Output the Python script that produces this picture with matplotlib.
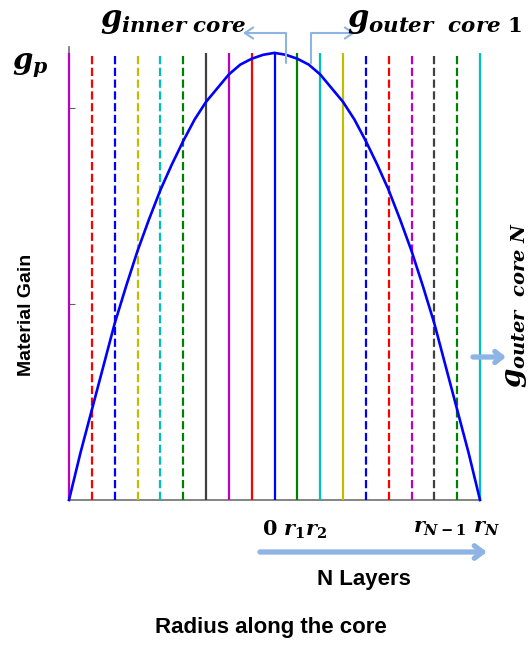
import matplotlib.pyplot as plt

plt.rcParams['mathtext.fontset'] = 'custom'
plt.rcParams['mathtext.it'] = 'DejaVu Serif:italic:bold'
plt.rcParams['mathtext.rm'] = 'DejaVu Serif:bold'
plt.rcParams['mathtext.bf'] = 'DejaVu Serif:bold'

# layer boundaries along the radius
radius = [-9, -8, -7, -6, -5, -4, -3, -2, -1, 0, 1, 2, 3, 4, 5, 6, 7, 8, 9]
colors = ['#bf00bf', 'r', 'b', '#bfbf00', '#00bfbf', 'g', '#404040', '#bf00bf', 'r',
          'b', 'g', '#00bfbf', '#bfbf00', 'b', 'r', '#bf00bf', '#404040', 'g', '#00bfbf']
styles = ['-', '--', '--', '--', '--', '--', '-', '-', '-',
          '-', '-', '-', '-', '--', '--', '--', '--', '--', '-']

# gain profile across the core
r_gain = [-9, -8.5, -8, -7.5, -7, -6.5, -6, -5.5, -5, -4.5, -4, -3.5, -3, -2.5, -2, -1.5, -1, -0.5, 0,
          0.5, 1, 1.5, 2, 2.5, 3, 3.5, 4, 4.5, 5, 5.5, 6, 6.5, 7, 7.5, 8, 8.5, 9]
gain = [0, 0.24, 0.46, 0.68, 0.90, 1.09, 1.27, 1.43, 1.58, 1.71, 1.83, 1.94, 2.03, 2.10, 2.17, 2.22, 2.25, 2.27, 2.28,
        2.27, 2.25, 2.22, 2.17, 2.10, 2.03, 1.94, 1.83, 1.71, 1.58, 1.43, 1.27, 1.09, 0.90, 0.68, 0.46, 0.24, 0]
g_peak = 2.28

fig = plt.figure(figsize=(5.3, 6.47), dpi=100)
ax = fig.add_axes([0.1302, 0.2272, 0.7755, 0.7002])

# layer boundaries drawn over the spines
for x, c, ls in zip(radius, colors, styles):
    ax.vlines(x, 0, g_peak, colors=c, linestyles=ls, linewidth=1.6, zorder=2.6, clip_on=False)

ax.plot(r_gain, gain, color='b', linewidth=1.9, zorder=3, clip_on=False)

ax.set_xlim(-9, 9)
ax.set_ylim(0, 2.31)
ax.set_xticks([])
ax.set_yticks([1, 2])
ax.set_yticklabels([])
ax.tick_params(axis='y', direction='in', length=4, color='#606060')
for s in ['top', 'right']:
    ax.spines[s].set_visible(False)
for s in ['left', 'bottom']:
    ax.spines[s].set_color('#707070')
    ax.spines[s].set_linewidth(1.2)

arrow_c = '#8eb4e3'
H = 647

def fp(x, y):
    return (x, H - y)

# plain text labels
fig.text(27 / 530, 1 - 315 / H, 'Material Gain', rotation=90, ha='center', va='center',
         fontsize=14, fontweight='bold', family='Liberation Sans')
fig.text(364 / 530, 1 - 580 / H, 'N Layers', ha='center', va='center',
         fontsize=16, fontweight='bold', family='Liberation Sans')
fig.text(271 / 530, 1 - 628 / H, 'Radius along the core', ha='center', va='center',
         fontsize=16, fontweight='bold', family='Liberation Sans')

# gain symbols
fig.text(12 / 530, 1 - 66 / H, r'$g_p$', ha='left', va='center', fontsize=21)
fig.text(100 / 530, 1 - 22 / H, r'$g_{inner\ core}$', ha='left', va='center', fontsize=22)
fig.text(347 / 530, 1 - 22 / H, r'$g_{outer\ \ core\ 1}$', ha='left', va='center', fontsize=22)
fig.text(515 / 530, 1 - 305 / H, r'$g_{outer\ \ core\ N}$', rotation=90, ha='center', va='center',
         fontsize=20)

# radius labels
fig.text(262 / 530, 1 - 530 / H, r'$0\ r_1 r_2$', ha='left', va='center', fontsize=15)
fig.text(413 / 530, 1 - 528 / H, r'$r_{N-1}\ r_N$', ha='left', va='center', fontsize=15)

# arrows
ax.annotate('', xy=fp(487, 552), xytext=fp(260, 552), xycoords='figure pixels',
            textcoords='figure pixels',
            arrowprops=dict(arrowstyle='->,head_length=0.6,head_width=0.45', color=arrow_c,
                            lw=3.8, shrinkA=0, shrinkB=0))
ax.annotate('', xy=fp(506, 357), xytext=fp(473, 357), xycoords='figure pixels',
            textcoords='figure pixels',
            arrowprops=dict(arrowstyle='->,head_length=0.5,head_width=0.4', color=arrow_c,
                            lw=3.8, shrinkA=0, shrinkB=0))
ax.annotate('', xy=fp(243, 33), xytext=fp(286, 63), xycoords='figure pixels',
            textcoords='figure pixels',
            arrowprops=dict(arrowstyle='->,head_length=0.6,head_width=0.4', color=arrow_c,
                            lw=1.5, shrinkA=0, shrinkB=0,
                            connectionstyle='angle,angleA=90,angleB=0,rad=0'))
ax.annotate('', xy=fp(355, 33), xytext=fp(311, 63), xycoords='figure pixels',
            textcoords='figure pixels',
            arrowprops=dict(arrowstyle='->,head_length=0.6,head_width=0.4', color=arrow_c,
                            lw=1.5, shrinkA=0, shrinkB=0,
                            connectionstyle='angle,angleA=90,angleB=0,rad=0'))

fig.savefig('out.png', dpi=100)
